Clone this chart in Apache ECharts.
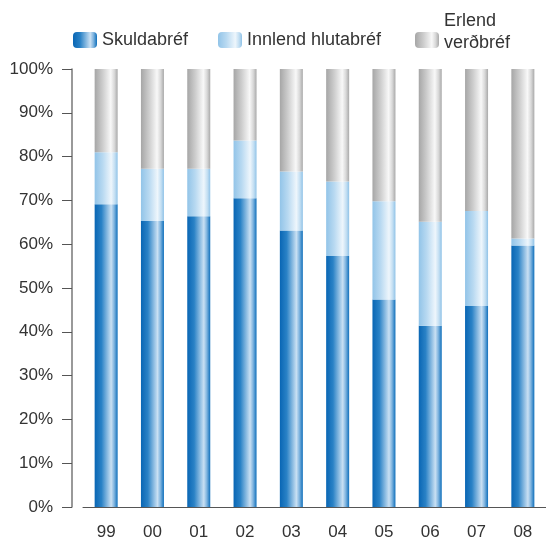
<!DOCTYPE html>
<html>
<head>
    <meta charset="utf-8">
    <script src="https://cdn.jsdelivr.net/npm/echarts@6/dist/echarts.min.js"></script>
    <style>
        html, body { margin: 0; padding: 0; background: #fff; }
        #main { width: 546px; height: 541px; }
    </style>
</head>
<body>
    <div id="main"></div>
    <script>
        // ár
        var years = ['99', '00', '01', '02', '03', '04', '05', '06', '07', '08'];
        // hlutföll í %
        var skuldabref = [69.1, 65.3, 66.4, 70.5, 63.1, 57.3, 47.4, 41.4, 45.9, 59.7];
        var innlend = [11.9, 11.9, 10.8, 13.2, 13.5, 17.0, 22.4, 23.7, 21.7, 1.6];
        var erlend = [19.0, 22.8, 22.8, 16.3, 23.4, 25.7, 30.2, 34.9, 32.4, 38.7];
        var yTicks = [0, 100, 10];

        function grad(stops) {
            return new echarts.graphic.LinearGradient(0, 0, 1, 0, stops.map(function (s) {
                return { offset: s[0], color: s[1] };
            }));
        }
        var blue = grad([[0, '#0966b4'], [0.3, '#2a82c6'], [0.72, '#c9e0f3'], [0.85, '#7fb4df'], [1, '#0f6fbb']]);
        var lightBlue = grad([[0, '#92c4e8'], [0.35, '#b8d9f1'], [0.72, '#eef6fc'], [0.88, '#c2def2'], [1, '#8fc2e7']]);
        var grey = grad([[0, '#a6a6a6'], [0.35, '#cdcdcd'], [0.7, '#f8f8f8'], [0.86, '#d8d8d8'], [1, '#a9a9a9']]);

        var txt = { color: '#333', fontFamily: 'Liberation Sans', fontSize: 18, lineHeight: 22 };

        var chart = echarts.init(document.getElementById('main'));
        chart.setOption({
            animation: false,
            legend: [{
                data: ['Skuldabréf'], left: 73, top: 29, padding: 0, itemWidth: 24, itemHeight: 16,
                itemTextGap: 11, selectedMode: false, textStyle: txt
            }, {
                data: ['Innlend hlutabréf'], left: 218, top: 29, padding: 0, itemWidth: 24, itemHeight: 16,
                itemTextGap: 11, selectedMode: false, textStyle: txt
            }, {
                data: ['Erlend verðbréf'], left: 415, top: 10, padding: 0, itemWidth: 24, itemHeight: 16,
                itemTextGap: 11, selectedMode: false,
                formatter: function (n) {
                    var p = n.split(' ');
                    return '{a|' + p[0] + '}\n{a|' + p[1] + '}\n{b| }';
                },
                textStyle: Object.assign({}, txt, {
                    rich: {
                        a: { color: '#333', fontFamily: 'Liberation Sans', fontSize: 18, lineHeight: 22 },
                        b: { fontSize: 10, lineHeight: 16 }
                    }
                })
            }],
            grid: { left: 83, top: 69, width: 467, height: 447 },
            xAxis: {
                type: 'category',
                data: years,
                axisLine: { lineStyle: { color: '#555', width: 1 } },
                axisTick: { interval: 0, length: 12, lineStyle: { color: '#222' } },
                axisLabel: { margin: 17, color: '#333', fontFamily: 'Liberation Sans', fontSize: 17 }
            },
            yAxis: {
                type: 'value',
                min: yTicks[0], max: yTicks[1], interval: yTicks[2],
                offset: 11,
                axisLine: { show: true, lineStyle: { color: '#777', width: 1.5 } },
                axisTick: { show: true, length: 10, lineStyle: { color: '#555' } },
                splitLine: { show: false },
                axisLabel: { margin: 19, formatter: '{value}%', color: '#333', fontFamily: 'Liberation Sans', fontSize: 17 }
            },
            series: [{
                name: 'Skuldabréf', type: 'bar', stack: 's', barWidth: 23,
                itemStyle: { color: blue }, data: skuldabref
            }, {
                name: 'Innlend hlutabréf', type: 'bar', stack: 's', barWidth: 23,
                itemStyle: { color: lightBlue }, data: innlend
            }, {
                name: 'Erlend verðbréf', type: 'bar', stack: 's', barWidth: 23,
                itemStyle: { color: grey }, data: erlend
            }]
        });
    </script>
</body>
</html>
